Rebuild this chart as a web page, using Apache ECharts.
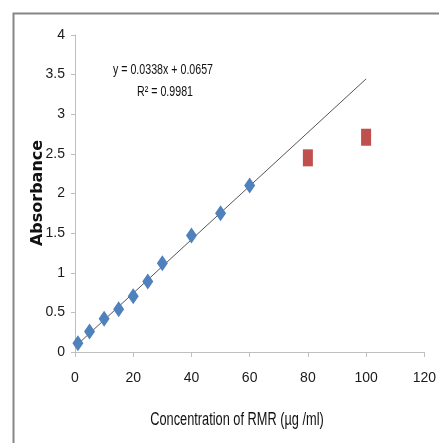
<!DOCTYPE html>
<html>
<head>
<meta charset="utf-8">
<script src="https://cdn.jsdelivr.net/npm/echarts@6/dist/echarts.min.js"></script>
<style>
html,body{margin:0;padding:0;background:#fff;}
#chart{width:439px;height:443px;}
</style>
</head>
<body>
<div id="chart"></div>
<script>
// Data
var stdX = [1, 5, 10, 15, 20, 25, 30, 40, 50, 60];
var stdY = [0.11, 0.26, 0.42, 0.54, 0.705, 0.89, 1.12, 1.47, 1.75, 2.10];
var outX = [80, 100];
var outY = [2.45, 2.71];
var trendX = [1, 100];
var trendY = [0.10, 3.446];
var xTicks = [0, 20, 40, 60, 80, 100, 120];
var yTicks = [0, 0.5, 1, 1.5, 2, 2.5, 3, 3.5, 4];
var equationText = 'y = 0.0338x + 0.0657';
var r2Text = 'R² = 0.9981';
var xTitle = 'Concentration of RMR (µg /ml)';
var yTitle = 'Absorbance';

function pairs(xs, ys){ return xs.map(function(x,i){ return [x, ys[i]]; }); }

var sans = "'Liberation Sans',Arial,sans-serif";

var chart = echarts.init(document.getElementById('chart'), null, {renderer:'canvas'});
chart.setOption({
  animation:false,
  backgroundColor:'#ffffff',
  grid:{left:75, right:9, top:35, bottom:91, containLabel:false},
  xAxis:{
    type:'value', min:xTicks[0], max:xTicks[xTicks.length-1], interval:20,
    axisLine:{show:true, onZero:false, lineStyle:{color:'#BFBFBF', width:1}},
    axisTick:{show:true, length:5, lineStyle:{color:'#BFBFBF'}},
    axisLabel:{margin:19, fontFamily:sans, fontSize:14, color:'#1a1a1a'},
    splitLine:{show:false}
  },
  yAxis:{
    type:'value', min:yTicks[0], max:yTicks[yTicks.length-1], interval:0.5,
    axisLine:{show:true, lineStyle:{color:'#BFBFBF', width:1}},
    axisTick:{show:true, length:4, lineStyle:{color:'#BFBFBF'}},
    axisLabel:{margin:10, fontFamily:sans, fontSize:14, color:'#1a1a1a'},
    splitLine:{show:false}
  },
  series:[
    {
      type:'line', data:pairs(trendX, trendY), showSymbol:false, symbol:'none',
      lineStyle:{color:'#555555', width:1}, z:2, silent:true
    },
    {
      type:'scatter', data:pairs(stdX, stdY), symbol:'diamond', symbolSize:[11,16],
      itemStyle:{color:'#4F81BD', opacity:1}, z:3
    },
    {
      type:'scatter', data:pairs(outX, outY), symbol:'rect', symbolSize:[10,17],
      itemStyle:{color:'#C0504D', opacity:1}, z:3
    }
  ],
  graphic:[
    {type:'polyline', shape:{points:[[13.5,443],[13.5,13.5],[439,13.5]]},
     style:{stroke:'#868686', lineWidth:2, fill:null}, z:10},
    {type:'text', x:163, y:70, scaleX:0.71, scaleY:1,
     style:{text:equationText, align:'center', verticalAlign:'middle', font:"15px "+sans, fill:'#111'}},
    {type:'text', x:165, y:92, scaleX:0.71, scaleY:1,
     style:{text:r2Text, align:'center', verticalAlign:'middle', font:"15px "+sans, fill:'#111'}},
    {type:'text', x:237, y:420, scaleX:0.71, scaleY:1,
     style:{text:xTitle, align:'center', verticalAlign:'middle', font:"18px "+sans, fill:'#111'}},
    {type:'text', x:38, y:193, rotation:Math.PI/2,
     style:{text:yTitle, align:'center', verticalAlign:'middle', font:"bold 16px 'DejaVu Sans',sans-serif", fill:'#111'}}
  ]
});
</script>
</body>
</html>
